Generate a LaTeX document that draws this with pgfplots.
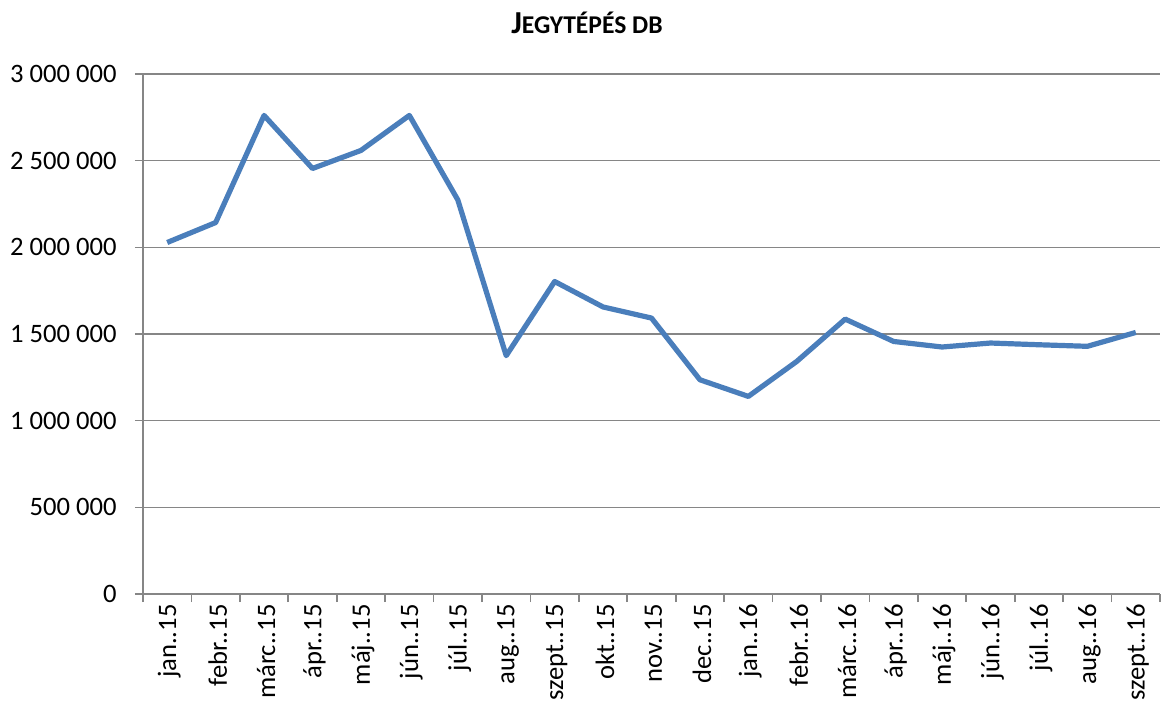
\documentclass[border=0pt]{standalone}
\usepackage{fontspec}
\setmainfont{Carlito}
\usepackage{pgfplots}
\pgfplotsset{compat=1.18}
\definecolor{serie}{RGB}{74,126,187}
\definecolor{racs}{RGB}{134,134,134}

\pgfplotstableread{
idx value
0  2028000
1  2143000
2  2761000
3  2455000
4  2559000
5  2761000
6  2274000
7  1375000
8  1803000
9  1656000
10 1592000
11 1236000
12 1140000
13 1342000
14 1586000
15 1457000
16 1425000
17 1448000
18 1438000
19 1429000
20 1509000
}\jegyek

\begin{document}
\begin{tikzpicture}
\begin{axis}[
  scale only axis,
  width=508.5pt, height=260pt,
  xmin=-0.5, xmax=20.5,
  ymin=0, ymax=3000000,
  scaled y ticks=false,
  axis lines*=left,
  axis line style={racs, line width=0.8pt},
  xtick={0,...,20},
  xticklabels={jan..15,febr..15,márc..15,ápr..15,máj..15,jún..15,júl..15,aug..15,szept..15,okt..15,nov..15,dec..15,jan..16,febr..16,márc..16,ápr..16,máj..16,jún..16,júl..16,aug..16,szept..16},
  major x tick style={draw=none},
  minor xtick={-0.5,0.5,...,20.5},
  minor x tick style={racs, line width=0.8pt},
  minor tick length=4pt,
  ytick={0,500000,...,3000000},
  yticklabels={0,500 000,1 000 000,1 500 000,2 000 000,2 500 000,3 000 000},
  major y tick style={racs, line width=0.8pt},
  major tick length=4pt,
  tick align=outside,
  ymajorgrids,
  grid style={racs, line width=0.8pt},
  tick label style={font=\fontsize{13.3}{15}\selectfont, text=black},
  xticklabel style={rotate=90, anchor=east, inner sep=1pt, yshift=-1pt},
  yticklabel style={inner sep=2pt, xshift=-7pt},
  clip=false,
]
\addplot[serie, line width=2.6pt, line join=round] table[x=idx, y=value] {\jegyek};
\end{axis}
\node[font=\bfseries] at (222pt,285.5pt) {{\fontsize{16}{18}\selectfont J}{\fontsize{12.8}{15}\selectfont EGYTÉPÉS DB}};
\pgfresetboundingbox
\useasboundingbox (-71.5pt,-57pt) rectangle (509pt,297pt);
\end{tikzpicture}
\end{document}
